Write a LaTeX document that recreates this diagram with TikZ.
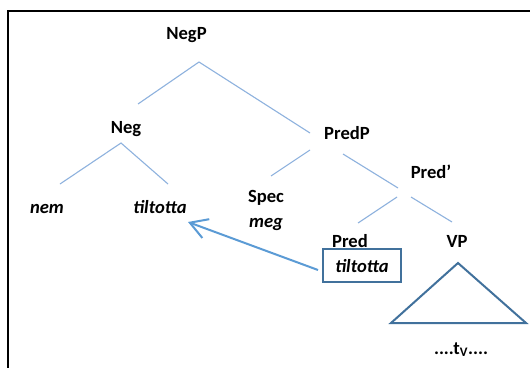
\documentclass[tikz,border=0pt]{standalone}
\usepackage{fontspec}
\setmainfont{Carlito}
\usetikzlibrary{arrows.meta}
\definecolor{treeblue}{HTML}{8EB2DE}
\definecolor{arrowblue}{HTML}{5B9BD5}
\definecolor{boxblue}{HTML}{41719C}
\begin{document}
\begin{tikzpicture}[x=1pt,y=-1pt,
  lab/.style={anchor=base,inner sep=0pt,font=\fontsize{18.6}{22}\selectfont\bfseries},
  ilab/.style={lab,font=\fontsize{18.6}{22}\selectfont\bfseries\itshape},
  branch/.style={draw=treeblue,line width=1.1pt},
  frameline/.style={draw=black,line width=2pt},
  movearrow/.style={draw=arrowblue,line width=2pt,-{Straight Barb[length=17pt,width=20pt,line width=2pt]}},
  boxed/.style={draw=boxblue,line width=2pt,minimum width=78pt,minimum height=33pt,inner sep=0pt,text height=13pt,text depth=0pt,font=\fontsize{18.6}{22}\selectfont\bfseries\itshape},
  tri/.style={draw=boxblue,line width=2pt,line join=miter}]
\useasboundingbox (0,0) rectangle (530,367);
\fill[white] (0,0) rectangle (530,367);
% frame
\coordinate (fb) at (8,368);
\coordinate (fc) at (8,11);
\coordinate (fr) at (531,11);
\draw[frameline] (fb) -- (fc) -- (fr);
% labels
\node[lab] (negp) at (186.5,39) {NegP};
\node[lab] (neg) at (126,133) {Neg};
\node[ilab] (nem) at (47,213) {nem};
\node[ilab] (til1) at (160,213) {tiltotta};
\node[lab] (predp) at (347,139) {PredP};
\node[lab] (predbar) at (431,178) {Pred’};
\node[lab] (spec) at (266,202) {Spec};
\node[ilab] (meg) at (266,227) {meg};
\node[lab] (pred) at (350,247) {Pred};
\node[lab] (vp) at (457,247) {VP};
\node[boxed] (box) at (362,265.5) {tiltotta};
\node[lab] (trace) at (461,354) {....t\textsubscript{V}....};
% branch end points
\coordinate (a1) at (199,62);  \coordinate (a1l) at (138,104); \coordinate (a1r) at (310,133);
\coordinate (a2) at (121,143); \coordinate (a2l) at (60,184);  \coordinate (a2r) at (168,184);
\coordinate (a3l0) at (310,150); \coordinate (a3l) at (271,176);
\coordinate (a3r0) at (343,154); \coordinate (a3r) at (398,188);
\coordinate (a4l0) at (397,197); \coordinate (a4l) at (358,223);
\coordinate (a4r0) at (411,197); \coordinate (a4r) at (452,222);
\draw[branch] (a1l) -- (a1) -- (a1r);
\draw[branch] (a2l) -- (a2) -- (a2r);
\draw[branch] (a3l0) -- (a3l);
\draw[branch] (a3r0) -- (a3r);
\draw[branch] (a4l0) -- (a4l);
\draw[branch] (a4r0) -- (a4r);
% triangle
\coordinate (t1) at (458,263);
\coordinate (t2) at (391,323);
\coordinate (t3) at (526,323);
\draw[tri] (t1) -- (t2) -- (t3) -- cycle;
% movement arrow
\coordinate (arrstart) at (318,270);
\coordinate (arrend) at (188,222);
\draw[movearrow] (arrstart) -- (arrend);
\end{tikzpicture}
\end{document}
